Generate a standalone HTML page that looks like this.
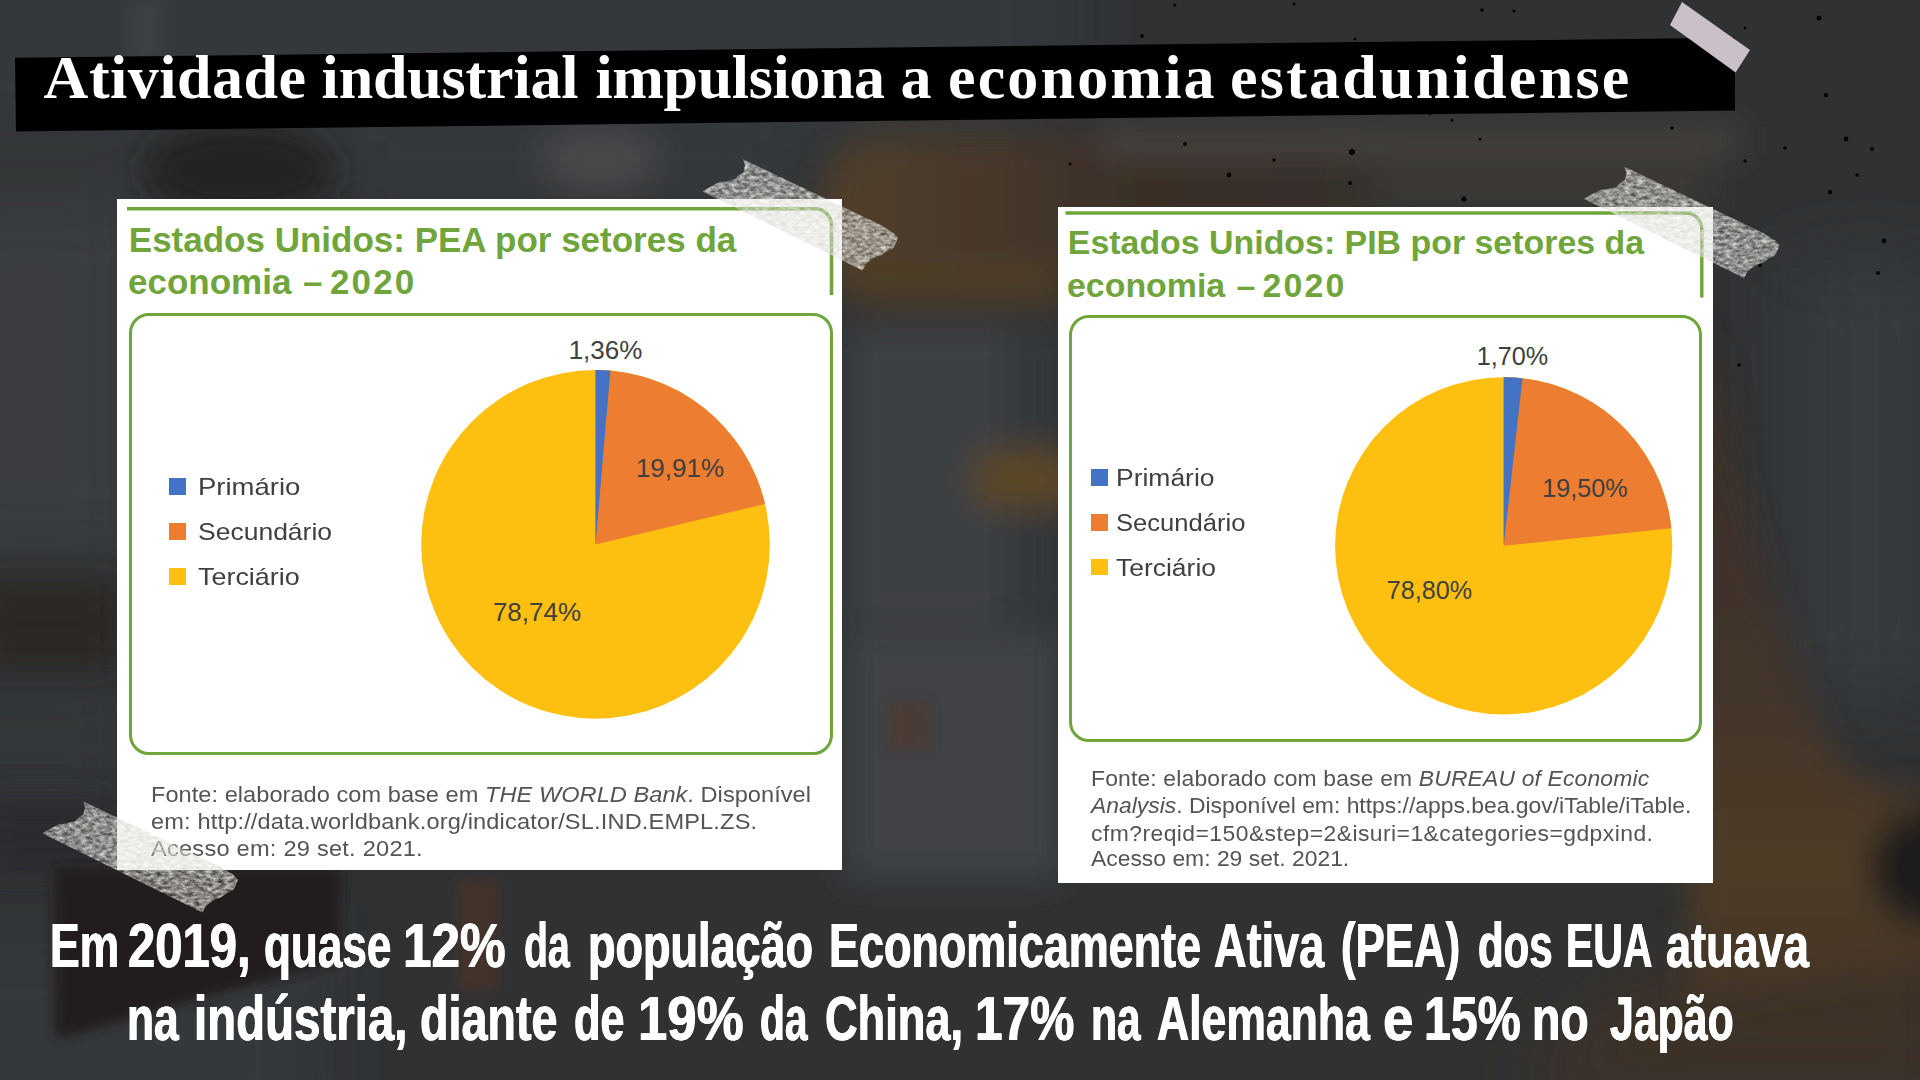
<!DOCTYPE html>
<html lang="pt-BR">
<head>
<meta charset="utf-8">
<title>Atividade industrial impulsiona a economia estadunidense</title>
<style>
html,body{margin:0;padding:0;}
body{width:1920px;height:1080px;overflow:hidden;position:relative;background:#2e3032;font-family:"Liberation Sans",sans-serif;}
.abs{position:absolute;}
#bg{position:absolute;left:0;top:0;width:1920px;height:1080px;}
.banner{position:absolute;left:0;top:0;width:1920px;height:160px;background:#000;clip-path:polygon(15px 57.7px,1735px 37.7px,1735px 110.4px,16px 131.5px);}
.title{position:absolute;left:44.3px;top:32.3px;height:90px;line-height:90px;white-space:nowrap;color:#fff;font-family:"Liberation Serif",serif;font-weight:bold;font-size:62px;transform-origin:0 50%;}
.title span{position:absolute;top:0;}
.panel{position:absolute;background:#fff;}
#pl{left:117px;top:199px;width:725px;height:671px;}
#pr{left:1058px;top:207px;width:655px;height:676px;}
.ptitle{position:absolute;color:#70a53c;font-weight:bold;white-space:nowrap;}
.cbox{position:absolute;border:3px solid #70a53c;border-radius:20px;box-sizing:border-box;}
.foot{position:absolute;color:#545454;white-space:nowrap;transform-origin:0 0;transform:scaleX(1.08);}
.foot i{font-style:italic;}
.lg{position:absolute;width:16.6px;height:16.6px;}
.lt{position:absolute;color:#404040;white-space:nowrap;font-size:25px;line-height:30px;transform-origin:0 50%;transform:scaleX(1.045);}
.bt{position:absolute;left:0;width:1920px;height:70px;color:#fff;font-weight:bold;font-size:63.5px;line-height:70px;white-space:nowrap;}
.bt span{position:absolute;top:0;transform-origin:0 50%;text-shadow:0.6px 0 0 #fff,-0.6px 0 0 #fff;}
svg text{font-family:"Liberation Sans",sans-serif;}
</style>
</head>
<body>
<!-- BACKGROUND -->
<svg id="bg" viewBox="0 0 1920 1080">
  <defs>
    <filter id="b40" filterUnits="userSpaceOnUse" x="-200" y="-200" width="2320" height="1480"><feGaussianBlur stdDeviation="38"/></filter>
    <filter id="b20" filterUnits="userSpaceOnUse" x="-200" y="-200" width="2320" height="1480"><feGaussianBlur stdDeviation="16"/></filter>
    <filter id="b10" filterUnits="userSpaceOnUse" x="-200" y="-200" width="2320" height="1480"><feGaussianBlur stdDeviation="6"/></filter>
  <linearGradient id="armg" x1="0" y1="0" x2="1" y2="0"><stop offset="0" stop-color="#513f2a"/><stop offset="0.3" stop-color="#47382a"/><stop offset="0.6" stop-color="#382e28"/><stop offset="1" stop-color="#35302d"/></linearGradient>
  <linearGradient id="baseg" x1="0" y1="0" x2="0" y2="1"><stop offset="0" stop-color="#3a2f27"/><stop offset="0.55" stop-color="#43352a"/><stop offset="0.8" stop-color="#4e3c27"/><stop offset="1" stop-color="#453627"/></linearGradient>
  </defs>
  <rect width="1920" height="1080" fill="#2f3133"/>
  <g filter="url(#b40)">
    <!-- top band, left half a bit lighter -->
    <rect x="-80" y="-80" width="1150" height="230" fill="#35383a"/>
    <!-- row under banner -->
    <rect x="330" y="130" width="480" height="90" fill="#36383a"/>
    <!-- left person shirt -->
    <rect x="-80" y="190" width="230" height="370" fill="#3b3d40"/>
    <rect x="-80" y="690" width="220" height="90" fill="#35373a"/>
    <!-- bottom left -->
    <rect x="-80" y="930" width="400" height="230" fill="#36383a"/>
    <!-- right robot base -->
    <path d="M1600,1000 L1960,880 L1960,1100 L1500,1100 Z" fill="#3c3127"/>
    <!-- right vertical lighter structure -->
    <rect x="1790" y="260" width="150" height="440" fill="#383b3e"/>
  </g>
  <g filter="url(#b20)">
    <!-- head (dark) -->
    <ellipse cx="240" cy="170" rx="95" ry="45" fill="#222324"/>
    <!-- shoulders of other person -->
    <ellipse cx="600" cy="160" rx="60" ry="30" fill="#48494b"/>
    <!-- robot arm (dim orange) -->
    <rect x="822" y="135" width="560" height="172" rx="60" fill="url(#armg)"/>
    <rect x="850" y="262" width="210" height="42" rx="18" fill="#4e3c28"/>
    <rect x="1100" y="126" width="640" height="30" fill="#47423c"/>
    <rect x="1380" y="150" width="330" height="60" fill="#3a3735"/>
    <!-- middle machine -->
    <rect x="846" y="325" width="160" height="300" fill="#3e4043"/>
    <rect x="846" y="630" width="215" height="250" fill="#404244"/>
    <rect x="1005" y="325" width="55" height="290" fill="#36383b"/>
    <rect x="972" y="450" width="110" height="58" rx="26" fill="#5c4626"/>
    <!-- dark wedge bottom-left -->
    <path d="M1690,320 L1713,349 C1730,440 1745,524 1778,621 C1795,670 1810,712 1843,764 C1870,785 1900,792 1960,800 L1960,960 L1690,1000 Z" fill="url(#baseg)"/>
    <!-- dark circle bottom-right -->
    <circle cx="1928" cy="868" r="58" fill="#1b1b1c"/>
    <!-- folds -->
    <rect x="-20" y="582" width="140" height="84" fill="#2a2624"/>
    <rect x="-20" y="800" width="140" height="70" fill="#2a2c2e"/>
  </g>
  <g filter="url(#b10)">
    <path d="M55,868 L340,868 L340,960 L55,1040 Z" fill="#201e1e"/>
    <rect x="457" y="880" width="42" height="110" fill="#43302a"/>
    <rect x="889" y="702" width="40" height="48" fill="#4b3a34"/>
    <rect x="130" y="0" width="30" height="60" fill="#3e4042"/>
  </g>
  <!-- specks -->
  <g fill="#050505">
    <circle cx="1175" cy="5" r="1.6"/><circle cx="1294" cy="4" r="1.6"/><circle cx="1482" cy="10" r="1.8"/><circle cx="1514" cy="11" r="1.6"/>
    <circle cx="1142" cy="36" r="2"/><circle cx="1355" cy="39" r="1.5"/><circle cx="1819" cy="18" r="2.5"/><circle cx="1745" cy="28" r="1.5"/>
    <circle cx="1826" cy="95" r="2.2"/><circle cx="1430" cy="114" r="1.4"/><circle cx="1452" cy="120" r="1.6"/><circle cx="1672" cy="128" r="1.8"/>
    <circle cx="1846" cy="139" r="2.4"/><circle cx="1480" cy="139" r="1.5"/><circle cx="1785" cy="148" r="1.8"/><circle cx="1872" cy="149" r="2"/>
    <circle cx="1185" cy="144" r="2"/><circle cx="1352" cy="152" r="3"/><circle cx="1070" cy="164" r="1.6"/><circle cx="1274" cy="160" r="1.8"/>
    <circle cx="1745" cy="161" r="1.8"/><circle cx="1229" cy="175" r="2.4"/><circle cx="1350" cy="183" r="2"/><circle cx="1857" cy="175" r="1.8"/>
    <circle cx="1830" cy="192" r="2.2"/><circle cx="1464" cy="199" r="2.6"/><circle cx="1884" cy="241" r="2.4"/><circle cx="1760" cy="265" r="2"/>
    <circle cx="1878" cy="273" r="2"/><circle cx="1739" cy="365" r="1.8"/>
  </g>
</svg>

<!-- TITLE BANNER -->
<div class="banner"></div>
<div class="title"><span style="left:-0.7px;letter-spacing:0.5px">Atividade</span> <span style="left:277.3px;letter-spacing:-0.16px">industrial</span> <span style="left:551.1px;letter-spacing:-0.36px">impulsiona</span> <span style="left:856.1px;">a</span> <span style="left:903.7px;letter-spacing:2.17px">economia</span> <span style="left:1185.7px;letter-spacing:2.27px">estadunidense</span></div>

<!-- LEFT PANEL -->
<div class="panel" id="pl">
  <svg class="abs" style="left:0;top:0" width="725" height="110" viewBox="0 0 725 110">
    <path d="M10,9.7 H698 A16.5,16.5 0 0 1 714.5,26 V96" fill="none" stroke="#70a53c" stroke-width="3.6"/>
  </svg>
  <div class="ptitle" style="left:11.8px;top:19.7px;font-size:35px;line-height:42.65px;">Estados Unidos: PEA por setores da<br><span style="word-spacing:2px;margin-left:-0.8px">economia – <span style="letter-spacing:2.1px;margin-left:-4.3px">2020</span></span></div>
  <div class="cbox" style="left:12px;top:114px;width:704px;height:442px;"></div>
  <div class="lg" style="left:52.2px;top:279px;background:#4472c4"></div>
  <div class="lg" style="left:52.2px;top:324px;background:#ed7d31"></div>
  <div class="lg" style="left:52.2px;top:369px;background:#fdc011"></div>
  <div class="lt" style="left:80.5px;top:273.3px;font-size:24px;transform:scaleX(1.146)">Primário</div>
  <div class="lt" style="left:80.5px;top:318.3px;font-size:24px;transform:scaleX(1.104)">Secundário</div>
  <div class="lt" style="left:80.5px;top:363.3px;font-size:24px;transform:scaleX(1.122)">Terciário</div>
  <svg class="abs" style="left:280px;top:130px" width="400" height="400" viewBox="397 329 400 400">
    <circle cx="595.5" cy="544.4" r="174.3" fill="#fdc011"/>
    <path d="M595.5,544.4 L595.5,370.1 A174.3,174.3 0 0 1 765.04,503.95 Z" fill="#ed7d31"/>
    <path d="M595.5,544.4 L595.5,370.1 A174.3,174.3 0 0 1 610.37,370.74 Z" fill="#4472c4"/>
    <text x="605.5" y="359" font-size="26" fill="#404040" text-anchor="middle">1,36%</text>
    <text x="680" y="477.4" font-size="26" fill="#404040" text-anchor="middle">19,91%</text>
    <text x="537" y="620.7" font-size="26" fill="#404040" text-anchor="middle">78,74%</text>
  </svg>
  <div class="foot" style="left:34.4px;top:582px;font-size:21.85px;line-height:27.1px;"><span style="letter-spacing:0.03px">Fonte: elaborado com base em <i>THE WORLD Bank</i>. Disponível</span><br><span style="letter-spacing:0.14px">em: http://data.worldbank.org/indicator/SL.IND.EMPL.ZS.</span><br><span style="letter-spacing:0.22px">Acesso em: 29 set. 2021.</span></div>
</div>

<!-- RIGHT PANEL -->
<div class="panel" id="pr">
  <svg class="abs" style="left:0;top:0" width="655" height="110" viewBox="0 0 655 110">
    <path d="M7.5,6 H628 A16,16 0 0 1 643.8,22 V90.5" fill="none" stroke="#70a53c" stroke-width="3.4"/>
  </svg>
  <div class="ptitle" style="left:9.8px;top:14.4px;font-size:33.9px;line-height:42.4px;">Estados Unidos: PIB por setores da<br><span style="word-spacing:2px;margin-left:-0.8px">economia – <span style="letter-spacing:2.1px;margin-left:-4.3px">2020</span></span></div>
  <div class="cbox" style="left:10.5px;top:108px;width:633px;height:427px;"></div>
  <div class="lg" style="left:33.4px;top:262.2px;background:#4472c4"></div>
  <div class="lg" style="left:33.4px;top:307.3px;background:#ed7d31"></div>
  <div class="lg" style="left:33.4px;top:351.9px;background:#fdc011"></div>
  <div class="lt" style="left:58px;top:256.3px;font-size:23.5px;transform:scaleX(1.126)">Primário</div>
  <div class="lt" style="left:58px;top:300.8px;font-size:23.5px;transform:scaleX(1.088)">Secundário</div>
  <div class="lt" style="left:58px;top:345.8px;font-size:23.5px;transform:scaleX(1.126)">Terciário</div>
  <svg class="abs" style="left:262px;top:123px" width="380" height="400" viewBox="1320 330 380 400">
    <circle cx="1503.7" cy="545.8" r="168.6" fill="#fdc011"/>
    <path d="M1503.7,545.8 L1503.7,377.2 A168.6,168.6 0 0 1 1671.38,528.18 Z" fill="#ed7d31"/>
    <path d="M1503.7,545.8 L1503.7,377.2 A168.6,168.6 0 0 1 1522.49,378.25 Z" fill="#4472c4"/>
    <text x="1512.5" y="365" font-size="25.2" fill="#404040" text-anchor="middle">1,70%</text>
    <text x="1585" y="497.3" font-size="25.2" fill="#404040" text-anchor="middle">19,50%</text>
    <text x="1429.5" y="599.2" font-size="25.2" fill="#404040" text-anchor="middle">78,80%</text>
  </svg>
  <div class="foot" style="left:32.6px;top:558.8px;font-size:21.2px;line-height:26.7px;"><span style="letter-spacing:0.15px">Fonte: elaborado com base em <i>BUREAU of Economic</i></span><br><i>Analysis</i>. Disponível em: https://apps.bea.gov/iTable/iTable.<br><span style="letter-spacing:0.42px;position:relative;top:1.3px">cfm?reqid=150&amp;step=2&amp;isuri=1&amp;categories=gdpxind.</span><br>Acesso em: 29 set. 2021.</div>
</div>

<!-- TAPES -->
<svg class="abs" style="left:0;top:0" width="1920" height="1080" viewBox="0 0 1920 1080">
  <defs>
    <filter id="tape" filterUnits="userSpaceOnUse" x="0" y="0" width="1920" height="1080" color-interpolation-filters="sRGB">
      <feTurbulence type="fractalNoise" baseFrequency="0.16 0.3" numOctaves="4" seed="7" result="n"/>
      <feColorMatrix in="n" type="matrix" values="0 0 0 0 0.87  0 0 0 0 0.87  0 0 0 0 0.85  1.2 0 0 0 -0.05" result="t"/>
      <feComposite in="t" in2="SourceGraphic" operator="in"/>
    </filter>
  </defs>
  <!-- pink tape on banner -->
  <polygon points="1682,2 1750,50 1735.6,72.5 1670,25" fill="#c9c1c7"/>
  <g filter="url(#tape)" fill="#fff">
  <polygon points="742.9,159.2 745,165.4 743.3,172.5 738.3,175.8 735,179.2 726,181.5 718.3,182.5 710,187 702.5,191.3 706.7,193.5 862.5,270.5 866,264 870,260.5 876,257 881.7,255 887,251 893.3,248.3 896,243 898,237.5 893,232.5 880.8,225"/>
  <polygon transform="translate(-660,642)" points="742.9,159.2 745,165.4 743.3,172.5 738.3,175.8 735,179.2 726,181.5 718.3,182.5 710,187 702.5,191.3 706.7,193.5 862.5,270.5 866,264 870,260.5 876,257 881.7,255 887,251 893.3,248.3 896,243 898,237.5 893,232.5 880.8,225"/>
  <polygon transform="translate(881.5,7.5)" points="742.9,159.2 745,165.4 743.3,172.5 738.3,175.8 735,179.2 726,181.5 718.3,182.5 710,187 702.5,191.3 706.7,193.5 862.5,270.5 866,264 870,260.5 876,257 881.7,255 887,251 893.3,248.3 896,243 898,237.5 893,232.5 880.8,225"/>
  </g>
</svg>

<!-- BOTTOM TEXT -->
<div class="bt" style="top:909.7px"><span style="left:49.9px;transform:scaleX(0.7006)">Em</span> <span style="left:128.46px;transform:scaleX(0.7719)">2019,</span> <span style="left:263.61px;transform:scaleX(0.6936)">quase</span> <span style="left:403.47px;transform:scaleX(0.8082)">12%</span> <span style="left:523.76px;transform:scaleX(0.6182)">da</span> <span style="left:587.86px;transform:scaleX(0.7089)">população</span> <span style="left:828.87px;transform:scaleX(0.7076)">Economicamente</span> <span style="left:1214.29px;transform:scaleX(0.7099)">Ativa</span> <span style="left:1341.23px;transform:scaleX(0.6898)">(PEA)</span> <span style="left:1477.98px;transform:scaleX(0.6604)">dos</span> <span style="left:1565.72px;transform:scaleX(0.6455)">EUA</span> <span style="left:1665.99px;transform:scaleX(0.7099)">atuava</span></div>
<div class="bt" style="top:983px"><span style="left:127.21px;transform:scaleX(0.6964)">na</span> <span style="left:194.31px;transform:scaleX(0.7467)">indústria,</span> <span style="left:420.23px;transform:scaleX(0.735)">diante</span> <span style="left:573.64px;transform:scaleX(0.6823)">de</span> <span style="left:638.38px;transform:scaleX(0.8304)">19%</span> <span style="left:760.42px;transform:scaleX(0.6402)">da</span> <span style="left:825.28px;transform:scaleX(0.7113)">China,</span> <span style="left:975.18px;transform:scaleX(0.781)">17%</span> <span style="left:1090.62px;transform:scaleX(0.6696)">na</span> <span style="left:1156.7px;transform:scaleX(0.7013)">Alemanha</span> <span style="left:1383.28px;transform:scaleX(0.8594)">e</span> <span style="left:1424.46px;transform:scaleX(0.7605)">15%</span> <span style="left:1532.07px;transform:scaleX(0.7313)">no</span> <span style="left:1610.0px;transform:scaleX(0.6741)">Japão</span></div>
</body>
</html>
